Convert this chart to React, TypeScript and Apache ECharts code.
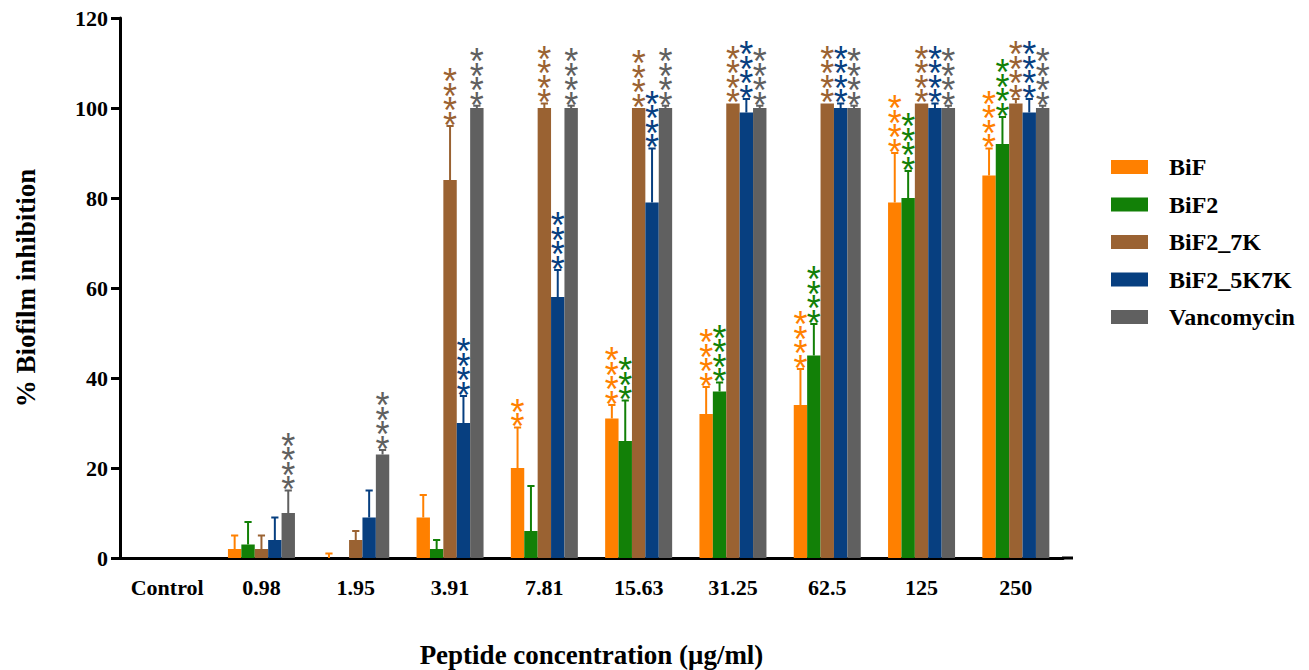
import React, { useEffect, useRef } from "react";
import * as echarts from "echarts";

const categories = ["Control", "0.98", "1.95", "3.91", "7.81", "15.63", "31.25", "62.5", "125", "250"];
const seriesNames = ["BiF", "BiF2", "BiF2_7K", "BiF2_5K7K", "Vancomycin"];
const colors = ["#FF8000", "#128007", "#9A6232", "#073F80", "#606060"];

const bifValues = [0, 2, 0, 9, 20, 31, 32, 34, 79, 85];
const bifErrTop = [0, 5, 1, 14, 29, 34, 38, 42, 90, 91];
const bifStars = [0, 0, 0, 0, 2, 4, 4, 4, 4, 4];

const bif2Values = [0, 3, 0, 2, 6, 26, 37, 45, 80, 92];
const bif2ErrTop = [0, 8, 0, 4, 16, 35, 39, 52, 86, 98];
const bif2Stars = [0, 0, 0, 0, 0, 3, 4, 4, 4, 4];

const k7Values = [0, 2, 4, 84, 100, 100, 101, 101, 101, 101];
const k7ErrTop = [0, 5, 6, 96, 101, 100, 101, 101, 101, 102];
const k7Stars = [0, 0, 0, 4, 4, 4, 4, 4, 4, 4];

const k57Values = [0, 4, 9, 30, 58, 79, 99, 100, 100, 99];
const k57ErrTop = [0, 9, 15, 36, 64, 91, 102, 101, 101, 102];
const k57Stars = [0, 0, 0, 4, 4, 4, 4, 4, 4, 4];

const vanValues = [0, 10, 23, 100, 100, 100, 100, 100, 100, 100];
const vanErrTop = [0, 15, 24, 100.5, 100.5, 100.5, 100.5, 100.5, 100.5, 100.5];
const vanStars = [0, 4, 4, 4, 4, 4, 4, 4, 4, 4];

const yTicks = { min: 0, max: 120, interval: 20 };

const allValues = [bifValues, bif2Values, k7Values, k57Values, vanValues];
const allErr = [bifErrTop, bif2ErrTop, k7ErrTop, k57ErrTop, vanErrTop];
const allStars = [bifStars, bif2Stars, k7Stars, k57Stars, vanStars];

const SERIF = "'Liberation Serif', 'Times New Roman', serif";
const BAR_W = 13.4;
const STAR_FS = 36;
const STAR_LH = 14.5;

export default function App() {
  const ref = useRef<HTMLDivElement>(null);
  useEffect(() => {
    document.body.style.margin = "0";
    const chart = echarts.init(ref.current!, null, { renderer: "svg" });

    const barSeries = seriesNames.map((name, i) => ({
      name,
      type: "bar",
      data: allValues[i],
      barWidth: BAR_W,
      barGap: "0%",
      itemStyle: { color: colors[i] },
      z: 2,
    }));

    const errSeries = seriesNames.map((name, i) => ({
      name: name + "_err",
      type: "custom",
      silent: true,
      z: 3,
      data: allValues[i].map((v, ci) => [ci, v, allErr[i][ci], allStars[i][ci]]),
      encode: { x: 0, y: 2 },
      renderItem: (params: any, api: any) => {
        const ci = api.value(0);
        const v = api.value(1);
        const e = api.value(2);
        const n = api.value(3);
        const p0 = api.coord([ci, v]);
        const p1 = api.coord([ci, e]);
        const x = p0[0] + (i - 2) * BAR_W;
        const children: any[] = [];
        const stroke = { stroke: colors[i], lineWidth: 2 };
        if (e > v) {
          children.push({ type: "line", shape: { x1: x, y1: p0[1], x2: x, y2: p1[1] }, style: stroke });
          children.push({ type: "line", shape: { x1: x - 3.6, y1: p1[1], x2: x + 3.6, y2: p1[1] }, style: stroke });
        }
        const baseY = Math.min(p0[1], p1[1]);
        if (n > 0) {
          const lines: string[] = [];
          for (let k = 0; k < n; k++) lines.push("*");
          children.push({
            type: "text",
            style: {
              text: lines.join("\n"),
              x,
              y: baseY - 9 + 0.233 * STAR_FS + STAR_LH / 2,
              align: "center",
              verticalAlign: "bottom",
              fill: colors[i],
              fontSize: STAR_FS,
              fontFamily: "'Liberation Sans', Arial, sans-serif",
              lineHeight: STAR_LH,
            },
          });
        }
        return { type: "group", children };
      },
    }));

    chart.setOption({
      animation: false,
      backgroundColor: "#ffffff",
      grid: { left: 120, top: 18, width: 943, bottom: 112, containLabel: false, outerBoundsMode: "none" },
      legend: {
        data: seriesNames,
        orient: "vertical",
        left: 1106,
        top: 150,
        itemWidth: 37,
        itemHeight: 14,
        itemGap: 13.5,
        icon: "rect",
        textStyle: {
          fontFamily: SERIF,
          fontWeight: "bold",
          fontSize: 24,
          color: "#000",
          lineHeight: 24,
          padding: [0, 0, 0, 16],
        },
      },
      xAxis: {
        type: "category",
        data: categories,
        name: "Peptide concentration (μg/ml)",
        nameLocation: "middle",
        nameGap: 83,
        nameTextStyle: { fontFamily: SERIF, fontWeight: "bold", fontSize: 27, color: "#000" },
        axisLine: { lineStyle: { color: "#000", width: 3 } },
        axisTick: { alignWithLabel: true, interval: 0, length: 8, lineStyle: { width: 3, color: "#000" } },
        axisLabel: { interval: 0, fontFamily: SERIF, fontWeight: "bold", fontSize: 22, color: "#000", margin: 18 },
      },
      yAxis: {
        type: "value",
        min: yTicks.min,
        max: yTicks.max,
        interval: yTicks.interval,
        name: "% Biofilm inhibition",
        nameLocation: "middle",
        nameGap: 81,
        nameRotate: 90,
        nameTextStyle: { fontFamily: SERIF, fontWeight: "bold", fontSize: 27, color: "#000" },
        axisLine: { show: true, lineStyle: { color: "#000", width: 3 } },
        axisTick: { show: true, length: 9, lineStyle: { width: 3, color: "#000" } },
        axisLabel: { fontFamily: SERIF, fontWeight: "bold", fontSize: 22, color: "#000", margin: 12 },
        splitLine: { show: false },
      },
      graphic: [
        {
          type: "line",
          shape: { x1: 1062, y1: 558, x2: 1073, y2: 558 },
          style: { stroke: "#000", lineWidth: 3 },
        },
      ],
      series: [...barSeries, ...errSeries],
    });
    return () => chart.dispose();
  }, []);
  return <div ref={ref} style={{ position: "fixed", left: 0, top: 0, width: 1309, height: 670 }} />;
}
